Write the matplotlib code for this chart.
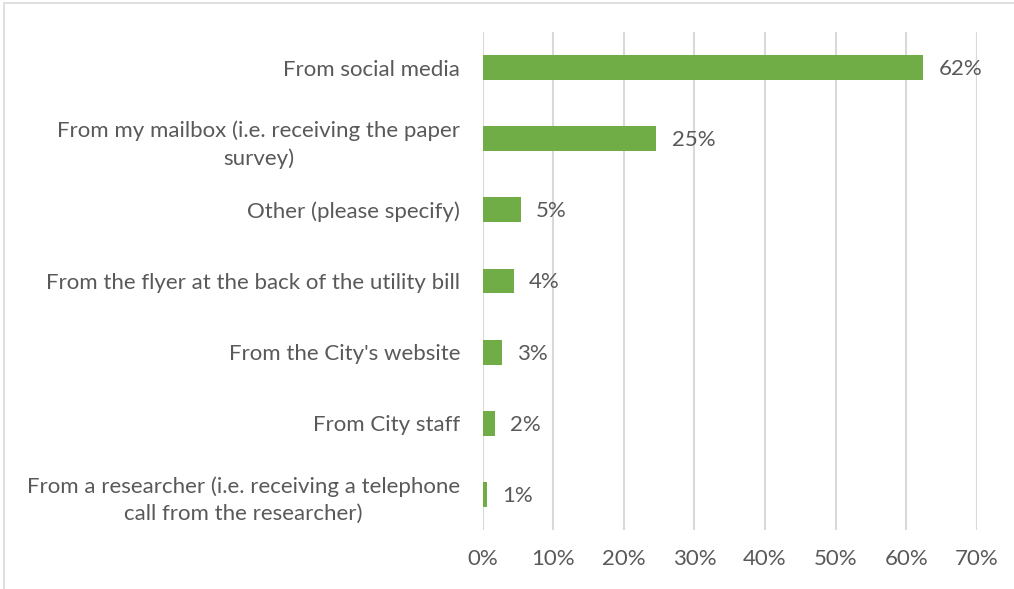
import matplotlib.pyplot as plt
from matplotlib.patches import Rectangle

sources = [
    "From social media",
    "From my mailbox (i.e. receiving the paper\nsurvey)",
    "Other (please specify)",
    "From the flyer at the back of the utility bill",
    "From the City's website",
    "From City staff",
    "From a researcher (i.e. receiving a telephone\ncall from the researcher)",
]
shares = [62.4, 24.6, 5.4, 4.4, 2.7, 1.7, 0.6]
xticks = [0, 10, 20, 30, 40, 50, 60, 70]

plt.rcParams['font.family'] = ['Lato', 'DejaVu Sans']
grey = "#595959"
fs = 16

fig = plt.figure(figsize=(10.14, 5.89), dpi=100)
ax = fig.add_axes([482.5 / 1014, 59 / 589, (977 - 482.5) / 1014, 498 / 589])

pos = list(range(len(sources)))
ax.barh(pos, shares, height=0.35, color="#70AD47", zorder=3)
for y, v in zip(pos, shares):
    ax.annotate(f"{round(v)}%", (v, y), xytext=(11, -1), textcoords="offset points",
                va="center", ha="left", fontsize=fs, color=grey)

ax.set_xlim(0, 70)
ax.set_ylim(len(sources) - 0.5, -0.5)
ax.set_xticks(xticks)
ax.set_xticklabels([f"{t}%" for t in xticks])
ax.set_yticks(pos)
ax.set_yticklabels(sources)
for lab in ax.get_yticklabels():
    lab.set_multialignment("center")
    lab.set_linespacing(1.45)

ax.tick_params(axis="both", length=0, labelsize=fs, labelcolor=grey)
ax.tick_params(axis="y", pad=16)
ax.tick_params(axis="x", pad=14)
ax.grid(axis="x", color="#D9D9D9", linewidth=1.5, zorder=0)
for s in ax.spines.values():
    s.set_visible(False)

# chart area outline
fig.patches.append(Rectangle((4 / 1014, -0.1), 1.2, 1.1 - 3 / 589,
                             transform=fig.transFigure, fill=False,
                             edgecolor="#D9D9D9", linewidth=1.2))

fig.savefig("out.png", dpi=100)
